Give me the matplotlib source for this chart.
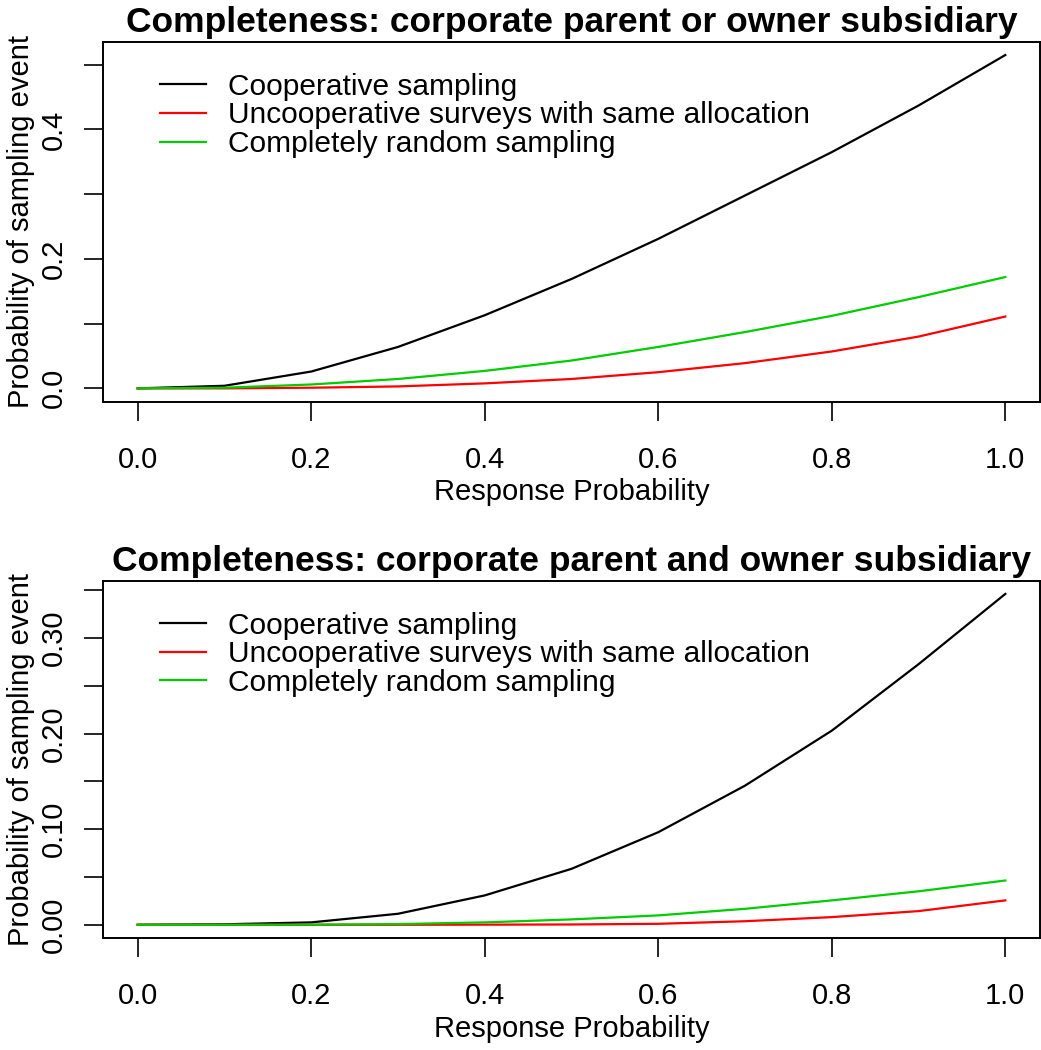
import matplotlib
matplotlib.use("Agg")
import matplotlib.pyplot as plt
import numpy as np

plt.rcParams['font.family'] = ['Liberation Sans', 'DejaVu Sans']

resp = [0.0, 0.1, 0.2, 0.3, 0.4, 0.5, 0.6, 0.7, 0.8, 0.9, 1.0]

# corporate parent OR owner subsidiary
coop_or = [0.0, 0.004, 0.026, 0.064, 0.113, 0.169, 0.231, 0.298, 0.365, 0.437, 0.515]
uncoop_or = [0.0, 0.0, 0.001, 0.003, 0.0077, 0.0145, 0.025, 0.039, 0.057, 0.080, 0.111]
random_or = [0.0, 0.001, 0.006, 0.0145, 0.027, 0.043, 0.064, 0.087, 0.112, 0.141, 0.172]

# corporate parent AND owner subsidiary
coop_and = [0.0, 0.0005, 0.0025, 0.0115, 0.0307, 0.0585, 0.0968, 0.1455, 0.203, 0.2725, 0.346]
uncoop_and = [0.0, 0.0, 0.0, 0.0, 0.0001, 0.0003, 0.001, 0.0037, 0.008, 0.0143, 0.0255]
random_and = [0.0, 0.0, 0.0001, 0.0007, 0.0025, 0.0056, 0.0098, 0.0167, 0.0255, 0.035, 0.0463]

labels = ['Cooperative sampling', 'Uncooperative surveys with same allocation',
          'Completely random sampling']
colors = ['black', '#FF0000', '#00CD00']

titles = ['Completeness: corporate parent or owner subsidiary',
          'Completeness: corporate parent and owner subsidiary']
yticks_top = [0.0, 0.1, 0.2, 0.3, 0.4, 0.5]
ylabels_top = ['0.0', '', '0.2', '', '0.4', '']
yticks_bot = [0.0, 0.05, 0.10, 0.15, 0.20, 0.25, 0.30, 0.35]
ylabels_bot = ['0.00', '', '0.10', '', '0.20', '', '0.30', '']
xticks = [0.0, 0.2, 0.4, 0.6, 0.8, 1.0]

W, H = 1041, 1050
fig = plt.figure(figsize=(W/100, H/100), dpi=100)

def fx(px):
    return px / W

def fy(px):
    return 1 - px / H

panels = [
    (41.7, 401.7, [coop_or, uncoop_or, random_or], yticks_top, ylabels_top, titles[0]),
    (580.7, 938.0, [coop_and, uncoop_and, random_and], yticks_bot, ylabels_bot, titles[1]),
]

for top, bot, series, yt, yl, title in panels:
    ax = fig.add_axes([fx(103), fy(bot), fx(1040) - fx(103), (bot - top) / H])
    for s, c, lab in zip(series, colors, labels):
        ax.plot(resp, s, color=c, lw=1.6, label=lab)
    ymax = max(series[0])
    ax.set_xlim(-0.04, 1.04)
    ax.set_ylim(-0.04 * ymax, 1.04 * ymax)
    ax.set_xticks(xticks)
    ax.set_xticklabels(['%.1f' % v for v in xticks])
    ax.set_yticks(yt)
    ax.set_yticklabels(yl, rotation=90, va='center')
    ax.tick_params(axis='both', direction='out', length=14, width=1.2,
                   labelsize=21)
    ax.tick_params(axis='x', pad=18)
    ax.tick_params(axis='y', pad=11)
    for sp in ax.spines.values():
        sp.set_linewidth(1.4)
    ax.set_xlabel('Response Probability', fontsize=21, labelpad=3)
    ax.set_ylabel('Probability of sampling event', fontsize=21, labelpad=4)
    ax.set_title(title, fontsize=25.5, fontweight='bold', pad=7)
    ax.legend(loc='upper left', frameon=False, fontsize=21.5,
              handlelength=1.55, handletextpad=0.75, labelspacing=0.02,
              borderaxespad=0.4, bbox_to_anchor=(0.035, 0.98))

fig.savefig('out.png', dpi=100)
